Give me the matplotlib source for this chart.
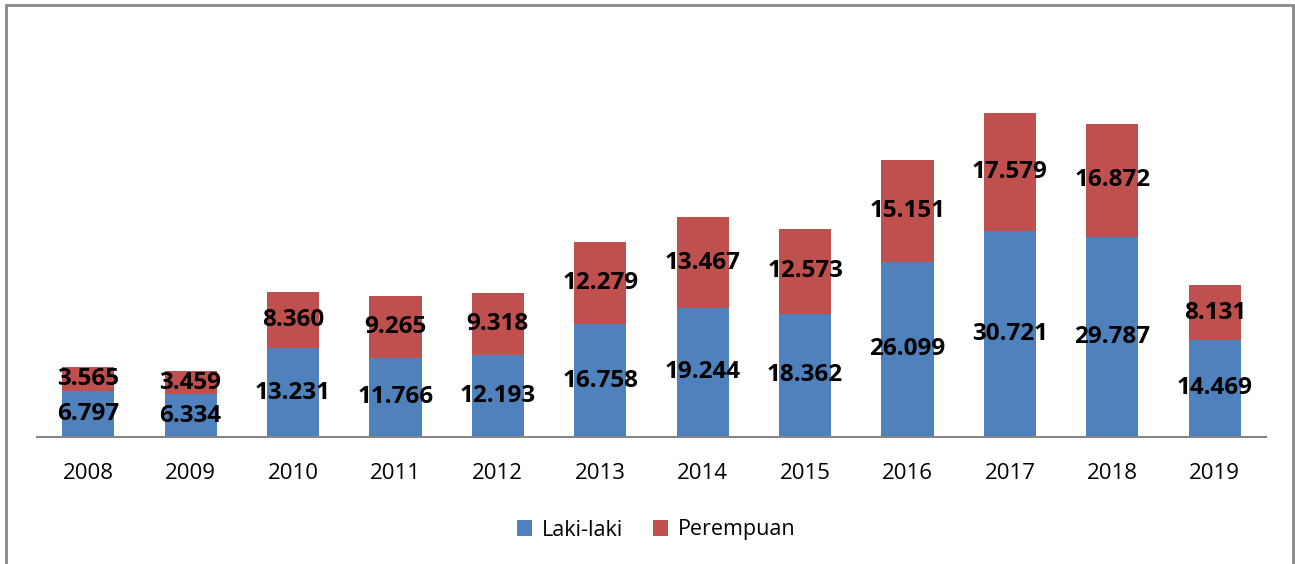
import numpy as np
import matplotlib.pyplot as plt
from matplotlib.patches import Rectangle

years = ['2008', '2009', '2010', '2011', '2012', '2013', '2014', '2015', '2016', '2017', '2018', '2019']
laki = [6.797, 6.334, 13.231, 11.766, 12.193, 16.758, 19.244, 18.362, 26.099, 30.721, 29.787, 14.469]
perempuan = [3.565, 3.459, 8.360, 9.265, 9.318, 12.279, 13.467, 12.573, 15.151, 17.579, 16.872, 8.131]

plt.rcParams['font.family'] = ['Open Sans', 'DejaVu Sans']

blue = '#4F81BD'
red = '#C0504D'

fig = plt.figure(figsize=(12.95, 5.64), dpi=100)
ax = fig.add_axes([37 / 1295, 127 / 564, 1229 / 1295, 403 / 564])

x = np.arange(len(years))
b1 = ax.bar(x, laki, width=0.51, color=blue, label='Laki-laki')
b2 = ax.bar(x, perempuan, width=0.51, bottom=laki, color=red, label='Perempuan')

fmt = lambda v: '{:.3f}'.format(v)
ax.bar_label(b1, labels=[fmt(v) for v in laki], label_type='center',
             fontsize=17.5, fontweight='bold', color='black')
ax.bar_label(b2, labels=[fmt(v) for v in perempuan], label_type='center',
             fontsize=17.5, fontweight='bold', color='black')

ax.set_xlim(-0.5, len(years) - 0.5)
ax.set_ylim(0, 60)
ax.set_xticks(x)
ax.set_xticklabels(years, fontsize=16)
ax.tick_params(axis='x', length=0, pad=19)
ax.set_yticks([])
for s in ['top', 'right', 'left']:
    ax.spines[s].set_visible(False)
ax.spines['bottom'].set_color('#868686')
ax.spines['bottom'].set_linewidth(1.5)

fig.legend(handles=[b1, b2], loc='center', bbox_to_anchor=(656 / 1295, 1 - 530 / 564),
           ncol=2, frameon=False, fontsize=15.5, handlelength=0.7, handleheight=0.7,
           columnspacing=1.4, handletextpad=0.45)

# chart border
fig.add_artist(Rectangle((6 / 1295, -0.02), 1287 / 1295, 559 / 564 + 0.02,
                         transform=fig.transFigure, fill=False,
                         edgecolor='#898989', linewidth=2))

plt.savefig('out.png', dpi=100)
